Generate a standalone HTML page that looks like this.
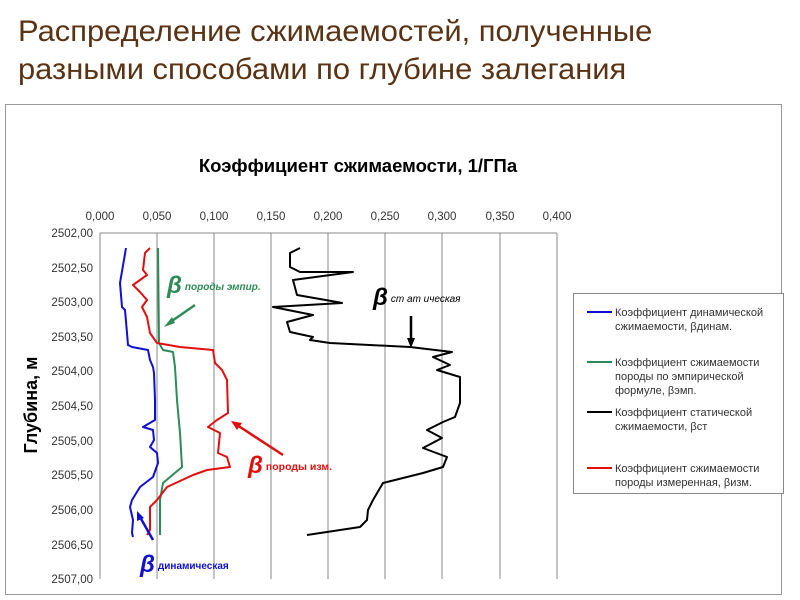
<!DOCTYPE html>
<html><head><meta charset="utf-8"><style>
body{margin:0;background:#fff;width:800px;height:600px;overflow:hidden;font-family:"Liberation Sans","DejaVu Sans",sans-serif}
.t{position:absolute;left:18px;color:#5a3214;font-size:30px;white-space:nowrap;transform-origin:0 0;transform:scaleX(1.03)}
</style></head><body>
<div class="t" style="top:15px">Распределение сжимаемостей, полученные</div>
<div class="t" style="top:53px">разными способами по глубине залегания</div>
<svg width="800" height="600" style="position:absolute;left:0;top:0" font-family="Liberation Sans, DejaVu Sans, sans-serif">
<rect x="5.5" y="104.5" width="776" height="490" fill="none" stroke="#999"/>
<text x="358" y="172" font-size="18.5" font-weight="bold" text-anchor="middle">Коэффициент сжимаемости, 1/ГПа</text>
<g stroke="#888" stroke-width="1">
<line x1="100" y1="233" x2="557" y2="233"/><line x1="100" y1="233" x2="100" y2="579"/>
<line x1="157" y1="233" x2="157" y2="579"/><line x1="214" y1="233" x2="214" y2="579"/><line x1="271" y1="233" x2="271" y2="579"/><line x1="328" y1="233" x2="328" y2="579"/><line x1="385" y1="233" x2="385" y2="579"/><line x1="442" y1="233" x2="442" y2="579"/><line x1="500" y1="233" x2="500" y2="579"/><line x1="557" y1="233" x2="557" y2="579"/>
</g>
<g font-size="11.5" fill="#333" text-anchor="middle">
<text x="100" y="220">0,000</text><text x="157" y="220">0,050</text><text x="214" y="220">0,100</text><text x="271" y="220">0,150</text><text x="328" y="220">0,200</text><text x="385" y="220">0,250</text><text x="442" y="220">0,300</text><text x="500" y="220">0,350</text><text x="557" y="220">0,400</text>
</g>
<g font-size="11.5" fill="#333" text-anchor="end">
<text x="93" y="237">2502,00</text><text x="93" y="272">2502,50</text><text x="93" y="306">2503,00</text><text x="93" y="341">2503,50</text><text x="93" y="375">2504,00</text><text x="93" y="410">2504,50</text><text x="93" y="445">2505,00</text><text x="93" y="479">2505,50</text><text x="93" y="514">2506,00</text><text x="93" y="549">2506,50</text><text x="93" y="583">2507,00</text>
</g>
<text transform="translate(37 405) rotate(-90)" font-size="18" font-weight="bold" text-anchor="middle">Глубина, м</text>
<g fill="none" stroke-width="2" stroke-linejoin="round">
<polyline stroke="#1010d0" points="126,248 120,283 122,307 125,310 127,333 128,345 132,347 148,350 150,360 153,367 154,373 155,400 155,420 143,427 153,430 154,440 150,447 157,453 158,463 153,477 140,487 132,500 130,507 133,520 132,533 133,537"/>
<polyline stroke="#2e8b57" points="158,248 159,343 163,350 173,352 175,367 177,400 180,433 182,467 163,483 160,500 160,535"/>
<polyline stroke="#e01010" points="150,248 145,253 143,270 147,275 140,280 133,285 140,292 147,300 142,307 147,317 150,333 157,343 180,347 213,350 215,363 222,370 227,380 228,413 217,420 208,427 220,433 218,453 227,457 230,467 207,470 193,475 167,487 157,500 150,507 150,530 147,535"/>
<polyline stroke="#000" points="300,248 290,253 290,267 300,272 353,272 293,280 297,295 337,302 342,303 273,307 313,315 287,322 290,332 313,337 310,340 330,343 410,347 452,352 433,357 450,365 437,370 460,377 460,403 455,417 443,422 427,430 442,438 423,448 447,457 443,467 423,473 383,483 373,500 368,510 367,520 360,527 307,535"/>
</g>
<g stroke-width="2.5">
<line x1="195" y1="305" x2="169" y2="323" stroke="#2e8b57"/><polygon points="164,327 172,317 175,323" fill="#2e8b57"/>
<line x1="411" y1="316" x2="411" y2="341" stroke="#000"/><polygon points="411,348 407,338 415,338" fill="#000"/>
<line x1="283" y1="455" x2="237" y2="425" stroke="#e01010"/><polygon points="231,421 242,423 237,430" fill="#e01010"/>
<line x1="153" y1="540" x2="140" y2="517" stroke="#1010d0"/><polygon points="137,511 144,518 137,521" fill="#1010d0"/>
</g>
<g font-weight="bold" font-style="italic">
<text x="167" y="293" fill="#2e8b57"><tspan font-size="24">β</tspan><tspan font-size="10" dx="3" dy="-3">породы эмпир.</tspan></text>
<text x="373" y="305" fill="#000"><tspan font-size="24">β</tspan><tspan font-size="10" dx="3" dy="-3" font-weight="normal">ст ат ическая</tspan></text>
<text x="248" y="473" fill="#e01010"><tspan font-size="24">β</tspan><tspan font-size="10.5" dx="3" dy="-3" font-style="normal">породы изм.</tspan></text>
<text x="140" y="572" fill="#1010d0"><tspan font-size="24">β</tspan><tspan font-size="10" dx="3" dy="-3" font-style="normal">динамическая</tspan></text>
</g>
<rect x="573.5" y="293.5" width="210" height="200" fill="#fff" stroke="#888"/>
<g stroke-width="2"><line x1="587" y1="312" x2="612" y2="312" stroke="#1010d0"/><line x1="587" y1="362" x2="612" y2="362" stroke="#2e8b57"/><line x1="587" y1="412" x2="612" y2="412" stroke="#000"/><line x1="587" y1="468" x2="612" y2="468" stroke="#e01010"/></g>
<g font-size="11" fill="#333">
<text x="615" y="316">Коэффициент динамической</text><text x="615" y="330">сжимаемости, βдинам.</text>
<text x="615" y="366">Коэффициент сжимаемости</text><text x="615" y="380">породы по эмпирической</text><text x="615" y="394">формуле, βэмп.</text>
<text x="615" y="416">Коэффициент статической</text><text x="615" y="430">сжимаемости, βст</text>
<text x="615" y="472">Коэффициент сжимаемости</text><text x="615" y="486">породы измеренная, βизм.</text>
</g>
</svg>
</body></html>
